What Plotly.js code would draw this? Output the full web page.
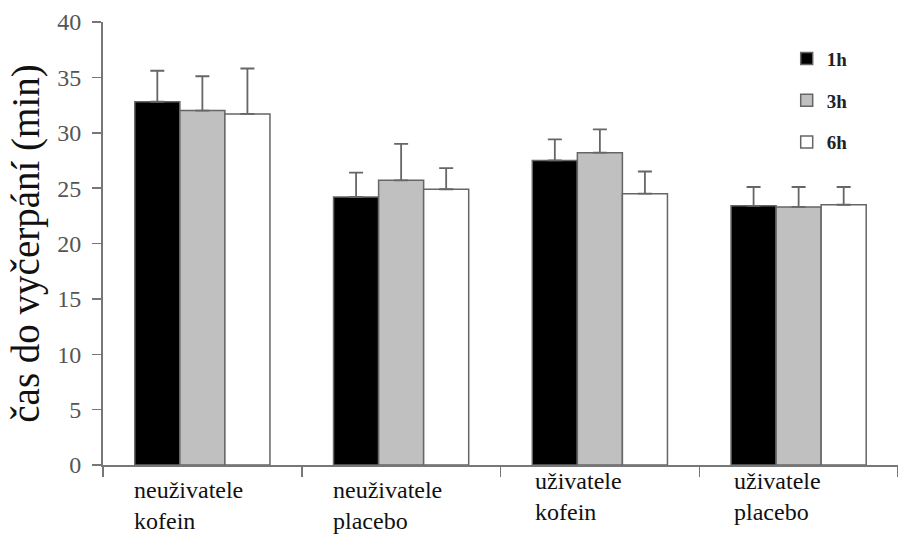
<!DOCTYPE html>
<html><head><meta charset="utf-8">
<script src="https://cdn.plot.ly/plotly-3.0.1.min.js"></script>
<style>body{margin:0;background:#fff}#c{width:898px;height:539px}</style>
</head><body><div id="c"></div>
<script>
const categories = ["neuživatele<br>kofein", "neuživatele<br>placebo", "uživatele<br>kofein", "uživatele<br>placebo"];
const seriesNames = ["1h", "3h", "6h"];
const values1h = [32.8, 24.2, 27.5, 23.4];
const values3h = [32.0, 25.7, 28.2, 23.3];
const values6h = [31.7, 24.9, 24.5, 23.5];
const err1h = [2.8, 2.2, 1.9, 1.7];
const err3h = [3.1, 3.3, 2.1, 1.8];
const err6h = [4.1, 1.9, 2.0, 1.6];
const yTicks = [0, 5, 10, 15, 20, 25, 30, 35, 40];

const SERIF = "Liberation Serif";
const fills = ["#000000", "#c0c0c0", "#ffffff"];
const vals = [values1h, values3h, values6h];
const errs = [err1h, err3h, err6h];
const xs = categories.map((c, i) => i);
const boundaries = xs.map(i => i - 0.5).concat([xs.length - 0.5]);

const traces = seriesNames.map((n, i) => ({
  type: "bar", name: n, x: xs, y: vals[i], legendgroup: n,
  marker: {color: fills[i], line: {color: "#666", width: 1.5}},
  error_y: {type: "data", array: errs[i], arrayminus: errs[i].map(() => 0), symmetric: false,
            color: "#666", thickness: 1.8, width: 7}
}));

const labelShift = [-70, -70, -67, -67];
const labelY = [-0.022, -0.022, -0.002, -0.002];
const annotations = categories.map((c, i) => ({
  text: c, x: xs[i], xref: "x", y: labelY[i], yref: "paper", xanchor: "left", yanchor: "top",
  xshift: labelShift[i], align: "left", showarrow: false,
  font: {family: SERIF, size: 24, color: "#111"}
}));

const layout = {
  width: 898, height: 539,
  margin: {l: 103, r: 0, t: 22, b: 74},
  paper_bgcolor: "#fff", plot_bgcolor: "#fff",
  bargap: 0.32, bargroupgap: 0,
  showlegend: true,
  legend: {x: 0.86, y: 0.96, xanchor: "left", yanchor: "top", traceorder: "grouped", tracegroupgap: 14,
           font: {family: SERIF, size: 19, color: "#222", weight: "bold"},
           bgcolor: "rgba(0,0,0,0)"},
  xaxis: {range: [-0.5, 3.5], tickmode: "array", tickvals: boundaries, showticklabels: false,
          ticks: "outside", ticklen: 10, tickwidth: 1.5, tickcolor: "#777",
          showline: true, linecolor: "#777", linewidth: 2, showgrid: false, zeroline: false, fixedrange: true},
  yaxis: {range: [0, 40], tickmode: "array", tickvals: yTicks, ticks: "outside", ticklen: 9,
          tickwidth: 1.5, tickcolor: "#777", showline: true, linecolor: "#777", linewidth: 2,
          showgrid: false, zeroline: false, ticklabelstandoff: 6,
          tickfont: {family: SERIF, size: 24, color: "#555"},
          title: {text: "čas do vyčerpání (min)", standoff: 6,
                  font: {family: SERIF, size: 39, color: "#111"}}},
  annotations: annotations
};
Plotly.newPlot("c", traces, layout, {displayModeBar: false, staticPlot: true});
</script></body></html>
